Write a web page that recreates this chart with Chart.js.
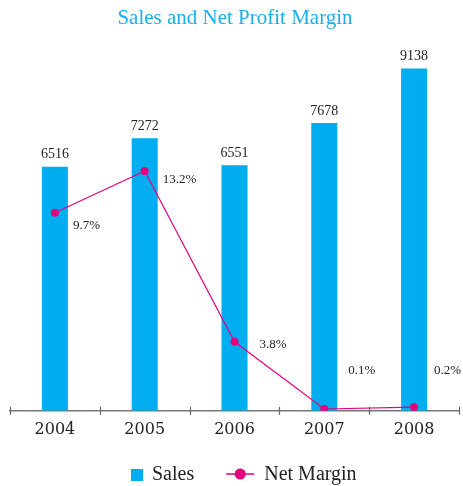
<!DOCTYPE html>
<html>
<head>
<meta charset="utf-8">
<script src="https://cdn.jsdelivr.net/npm/chart.js@4"></script>
<style>
  html, body { margin: 0; padding: 0; background: #fff; }
  #wrap { width: 463px; height: 486px; }
</style>
</head>
<body>
<div id="wrap"><canvas id="combo-chart"></canvas></div>
<script>
// Sales (bars) and net profit margin (line), 2004-2008
const years = ["2004", "2005", "2006", "2007", "2008"];
const sales = [6516, 7272, 6551, 7678, 9138];
// where the points sit on the chart (the 2004 point is drawn higher than its label says)
const netMargin = [10.9, 13.2, 3.8, 0.1, 0.2];
const marginLabels = ["9.7%", "13.2%", "3.8%", "0.1%", "0.2%"];

const BLUE = "#00adef";
const PINK = "#e5007d";
const TEXT = "#222";

// value labels over the bars and next to the points
const valueLabels = {
    id: "valueLabels",
    afterDatasetsDraw(chart) {
        const ctx = chart.ctx;
        ctx.save();
        ctx.fillStyle = TEXT;
        ctx.textBaseline = "middle";

        ctx.font = "14px 'Liberation Serif'";
        ctx.textAlign = "center";
        chart.getDatasetMeta(0).data.forEach((bar, i) => {
            ctx.fillText(sales[i], bar.x, bar.y - 12);
        });

        // labels sit right of the points; the last two float above the axis
        const dx = [18, 18, 25, 24, 20];
        const dy = [13, 9, 3, -38, -37];
        ctx.font = "13px 'Liberation Serif'";
        ctx.textAlign = "left";
        chart.getDatasetMeta(1).data.forEach((pt, i) => {
            ctx.fillText(marginLabels[i], pt.x + dx[i], pt.y + dy[i]);
        });
        ctx.restore();
    }
};

// small tick marks crossing the x axis at category edges
const axisTicks = {
    id: "axisTicks",
    afterDraw(chart) {
        const ctx = chart.ctx;
        const area = chart.chartArea;
        const step = (area.right - area.left) / years.length;
        ctx.save();
        ctx.strokeStyle = "#666";
        ctx.lineWidth = 1.2;
        for (let i = 0; i <= years.length; i++) {
            const x = Math.round(area.left + i * step) + 0.5;
            ctx.beginPath();
            ctx.moveTo(x, area.bottom - 4);
            ctx.lineTo(x, area.bottom + 4);
            ctx.stroke();
        }
        ctx.restore();
    }
};

// legend drawn by hand: square for the bars, line with dot for the margin
const bottomLegend = {
    id: "bottomLegend",
    afterDraw(chart) {
        const ctx = chart.ctx;
        const sets = chart.data.datasets;
        const y = 475;
        let x = 131;
        ctx.save();
        ctx.font = "20px 'Liberation Serif'";
        ctx.textBaseline = "middle";
        ctx.textAlign = "left";

        ctx.fillStyle = BLUE;
        ctx.fillRect(x, y - 6, 12, 12);
        x += 21;
        ctx.fillStyle = TEXT;
        ctx.fillText(sets[0].label, x, y);
        x += ctx.measureText(sets[0].label).width + 32;

        ctx.strokeStyle = PINK;
        ctx.lineWidth = 1.5;
        ctx.beginPath();
        ctx.moveTo(x, y - 1);
        ctx.lineTo(x + 28, y - 1);
        ctx.stroke();
        ctx.fillStyle = PINK;
        ctx.beginPath();
        ctx.arc(x + 14, y - 1, 5.5, 0, Math.PI * 2);
        ctx.fill();
        x += 38;
        ctx.fillStyle = TEXT;
        ctx.fillText(sets[1].label, x, y);
        ctx.restore();
    }
};

new Chart(document.getElementById("combo-chart"), {
    data: {
        labels: years,
        datasets: [
            {
                type: "bar",
                label: "Sales",
                data: sales,
                backgroundColor: BLUE,
                barPercentage: 0.29,
                categoryPercentage: 1,
                yAxisID: "y",
                order: 1
            },
            {
                type: "line",
                label: "Net Margin",
                data: netMargin,
                borderColor: PINK,
                borderWidth: 1.2,
                pointRadius: 4,
                pointBackgroundColor: PINK,
                pointBorderWidth: 0,
                tension: 0,
                yAxisID: "y1",
                order: 0
            }
        ]
    },
    options: {
        responsive: true,
        maintainAspectRatio: false,
        animation: false,
        layout: { padding: { left: 10, right: 3, top: 0, bottom: 38 } },
        plugins: {
            legend: { display: false },
            tooltip: { enabled: false },
            title: {
                display: true,
                text: "Sales and Net Profit Margin",
                color: "#1caee9",
                font: { family: "'Liberation Serif'", size: 21, weight: "normal" },
                padding: { top: 6, bottom: 19 }
            }
        },
        scales: {
            x: {
                offset: true,
                grid: { display: false, drawTicks: false },
                border: { display: true, color: "#777", width: 1.5 },
                ticks: {
                    color: TEXT,
                    padding: 9,
                    font: { family: "'DejaVu Serif'", size: 16 }
                }
            },
            y: { display: false, min: 0, max: 9624 },
            y1: { display: false, min: 0, max: 19.85 }
        }
    },
    plugins: [valueLabels, axisTicks, bottomLegend]
});
</script>
</body>
</html>
